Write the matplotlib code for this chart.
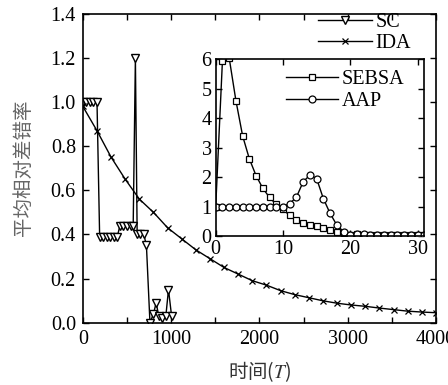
import numpy as np
import matplotlib
matplotlib.use("Agg")
import matplotlib.pyplot as plt

plt.rcParams['font.family'] = ['Liberation Serif', 'DejaVu Serif']
plt.rcParams['mathtext.fontset'] = 'stix'

# main plot: SC and IDA
sc_t = [0, 40, 80, 120, 160, 190, 230, 270, 310, 350, 390, 420, 460, 500, 540, 570,
        595, 615, 650, 690, 720, 760, 800, 830, 860, 900, 940, 970, 1005]
sc_v = [1.0, 1.0, 1.0, 1.0, 1.0, 0.39, 0.39, 0.39, 0.39, 0.39, 0.39, 0.44, 0.44, 0.44, 0.44, 0.44,
        1.2, 0.40, 0.40, 0.40, 0.35, 0.0, 0.04, 0.09, 0.03, 0.02, 0.03, 0.15, 0.03]

ida_t = np.arange(0, 4001, 160)
ida_v = [0.98, 0.87, 0.75, 0.65, 0.56, 0.50, 0.43, 0.38, 0.33, 0.29, 0.25, 0.22, 0.19,
         0.17, 0.145, 0.127, 0.113, 0.099, 0.088, 0.080, 0.074, 0.066, 0.059, 0.052, 0.048, 0.045]

# inset: SEBSA and AAP
ins_t = np.arange(0, 32)
sebsa_v = [1.0, 5.95, 6.05, 4.6, 3.4, 2.62, 2.05, 1.62, 1.31, 1.07, 0.9, 0.7, 0.55, 0.45, 0.38,
           0.33, 0.26, 0.2, 0.15, 0.09, 0.05, 0.06, 0.04, 0.05, 0.03, 0.03, 0.02, 0.03, 0.02, 0.02, 0.02, 0.02]
aap_v = [0.97, 0.97, 0.97, 0.97, 0.97, 0.97, 0.97, 0.97, 0.97, 0.98, 1.0, 1.1, 1.32, 1.84, 2.07,
         1.95, 1.27, 0.77, 0.37, 0.15, 0.05, 0.08, 0.06, 0.03, 0.05, 0.02, 0.04, 0.02, 0.03, 0.02, 0.02, 0.02]

fs = 14.5
fig = plt.figure(figsize=(4.48, 3.85), dpi=100)
ax = fig.add_axes([0.185, 0.162, 0.788, 0.802])
ax.plot(sc_t, sc_v, color='k', lw=1, marker='v', mfc='white', mec='k', ms=6, mew=1, label='SC')
ax.plot(ida_t, ida_v, color='k', lw=1, marker='x', ms=4, mew=0.9, label='IDA')
ax.set_xlim(0, 4000)
ax.set_ylim(0, 1.4)
ax.set_xticks(np.arange(0, 4001, 500))
ax.set_xticklabels([str(v) if v % 1000 == 0 else '' for v in range(0, 4001, 500)])
ax.set_yticks(np.arange(0, 1.41, 0.2))
ax.set_yticklabels(['%.1f' % v for v in np.arange(0, 1.41, 0.2)])
ax.tick_params(direction='in', top=True, right=True, length=4, labelsize=fs, width=1, pad=5)
for s in ax.spines.values():
    s.set_linewidth(1.2)
ax.set_xlabel('时间($T$)', family=['Noto Sans CJK SC'], fontsize=14, color='#333333', labelpad=8)
ax.set_ylabel('平均相对差错率', family=['Noto Sans CJK SC'], fontsize=14, color='#666666', labelpad=12)
ax.legend(loc='upper left', bbox_to_anchor=(318 / 448, 1 - 13 / 385), bbox_transform=fig.transFigure,
          frameon=False, fontsize=fs, handlelength=2.7, handletextpad=0.15, borderpad=0,
          labelspacing=0.1, borderaxespad=0)

ins = fig.add_axes([0.4815, 0.387, 0.4655, 0.459])
ins.plot(ins_t, sebsa_v, color='k', lw=1, marker='s', mfc='white', mec='k', ms=5, mew=0.9, label='SEBSA')
ins.plot(ins_t, aap_v, color='k', lw=1, marker='o', mfc='white', mec='k', ms=5, mew=0.9, label='AAP')
ins.set_xlim(0, 31)
ins.set_ylim(0, 6)
ins.set_xticks([0, 10, 20, 30])
ins.set_yticks(np.arange(0, 7, 1))
ins.tick_params(direction='in', top=True, right=True, length=4, labelsize=fs, width=1, pad=3)
for s in ins.spines.values():
    s.set_linewidth(1.2)
ins.legend(loc='upper left', bbox_to_anchor=(286 / 448, 1 - 70 / 385), bbox_transform=fig.transFigure,
           frameon=False, fontsize=fs, handlelength=2.6, handletextpad=0.15, borderpad=0,
           labelspacing=0.15, borderaxespad=0)

fig.savefig('out.png', dpi=100)
